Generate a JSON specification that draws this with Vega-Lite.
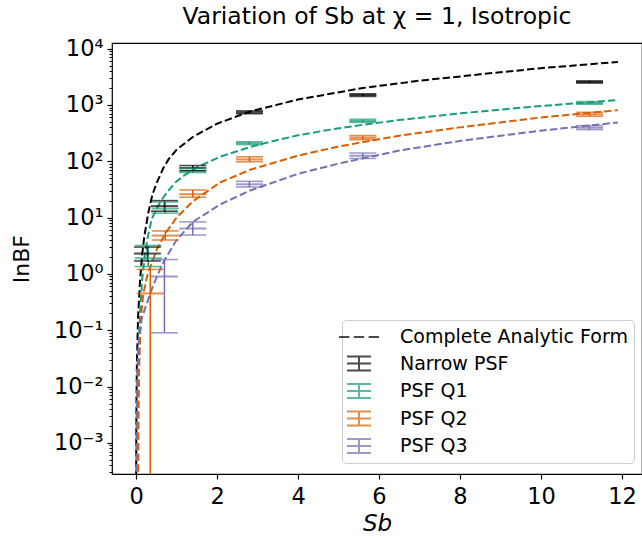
{
  "$schema": "https://vega.github.io/schema/vega-lite/v6.json",
  "width": 530,
  "height": 431,
  "autosize": {"type": "none"},
  "padding": {"left": 112, "top": 43, "right": 0, "bottom": 65},
  "background": "white",
  "config": {
    "font": "DejaVu Sans",
    "view": {"stroke": "black", "strokeWidth": 1.2},
    "axis": {"labelColor": "black", "titleColor": "black", "tickColor": "black", "domain": false, "grid": false, "labelFont": "DejaVu Sans", "titleFont": "DejaVu Sans"}
  },
  "title": {"text": "Variation of Sb at χ = 1, Isotropic", "fontSize": 23.5, "fontWeight": "normal", "anchor": "middle", "offset": 9, "color": "black", "font": "DejaVu Sans"},
  "datasets": {
    "curves": [
      {"series": "Complete Analytic Form", "x": 0.002, "y": 0.00024},
      {"series": "Complete Analytic Form", "x": 0.005, "y": 0.0015},
      {"series": "Complete Analytic Form", "x": 0.01, "y": 0.006},
      {"series": "Complete Analytic Form", "x": 0.02, "y": 0.026},
      {"series": "Complete Analytic Form", "x": 0.05, "y": 0.18},
      {"series": "Complete Analytic Form", "x": 0.1, "y": 0.8},
      {"series": "Complete Analytic Form", "x": 0.15, "y": 2.2},
      {"series": "Complete Analytic Form", "x": 0.2, "y": 4.5},
      {"series": "Complete Analytic Form", "x": 0.3, "y": 12},
      {"series": "Complete Analytic Form", "x": 0.4, "y": 25},
      {"series": "Complete Analytic Form", "x": 0.5, "y": 40},
      {"series": "Complete Analytic Form", "x": 0.67, "y": 75},
      {"series": "Complete Analytic Form", "x": 0.8, "y": 108},
      {"series": "Complete Analytic Form", "x": 1.0, "y": 160},
      {"series": "Complete Analytic Form", "x": 1.4, "y": 270},
      {"series": "Complete Analytic Form", "x": 2.0, "y": 465},
      {"series": "Complete Analytic Form", "x": 2.8, "y": 760},
      {"series": "Complete Analytic Form", "x": 4.0, "y": 1250},
      {"series": "Complete Analytic Form", "x": 5.6, "y": 2000},
      {"series": "Complete Analytic Form", "x": 7.0, "y": 2700},
      {"series": "Complete Analytic Form", "x": 8.5, "y": 3500},
      {"series": "Complete Analytic Form", "x": 10.0, "y": 4500},
      {"series": "Complete Analytic Form", "x": 11.9, "y": 5800},
      {"series": "PSF Q1", "x": 0.004, "y": 0.0002},
      {"series": "PSF Q1", "x": 0.01, "y": 0.0012},
      {"series": "PSF Q1", "x": 0.02, "y": 0.005},
      {"series": "PSF Q1", "x": 0.05, "y": 0.035},
      {"series": "PSF Q1", "x": 0.1, "y": 0.22},
      {"series": "PSF Q1", "x": 0.15, "y": 0.8},
      {"series": "PSF Q1", "x": 0.22, "y": 2.3},
      {"series": "PSF Q1", "x": 0.3, "y": 5},
      {"series": "PSF Q1", "x": 0.39, "y": 9.5},
      {"series": "PSF Q1", "x": 0.5, "y": 14},
      {"series": "PSF Q1", "x": 0.6, "y": 19},
      {"series": "PSF Q1", "x": 0.76, "y": 28},
      {"series": "PSF Q1", "x": 1.0, "y": 44},
      {"series": "PSF Q1", "x": 1.2, "y": 57},
      {"series": "PSF Q1", "x": 1.5, "y": 78},
      {"series": "PSF Q1", "x": 2.07, "y": 120},
      {"series": "PSF Q1", "x": 2.8, "y": 178},
      {"series": "PSF Q1", "x": 3.4, "y": 230},
      {"series": "PSF Q1", "x": 4.0, "y": 290},
      {"series": "PSF Q1", "x": 4.8, "y": 365},
      {"series": "PSF Q1", "x": 5.6, "y": 445},
      {"series": "PSF Q1", "x": 6.5, "y": 540},
      {"series": "PSF Q1", "x": 8.0, "y": 710},
      {"series": "PSF Q1", "x": 10.0, "y": 960},
      {"series": "PSF Q1", "x": 11.9, "y": 1220},
      {"series": "PSF Q2", "x": 0.05, "y": 0.0002},
      {"series": "PSF Q2", "x": 0.06, "y": 0.003},
      {"series": "PSF Q2", "x": 0.075, "y": 0.02},
      {"series": "PSF Q2", "x": 0.1, "y": 0.08},
      {"series": "PSF Q2", "x": 0.13, "y": 0.2},
      {"series": "PSF Q2", "x": 0.18, "y": 0.45},
      {"series": "PSF Q2", "x": 0.28, "y": 0.95},
      {"series": "PSF Q2", "x": 0.39, "y": 1.6},
      {"series": "PSF Q2", "x": 0.51, "y": 2.7},
      {"series": "PSF Q2", "x": 0.72, "y": 5.2},
      {"series": "PSF Q2", "x": 1.0, "y": 10},
      {"series": "PSF Q2", "x": 1.41, "y": 19.6},
      {"series": "PSF Q2", "x": 2.07, "y": 42},
      {"series": "PSF Q2", "x": 2.8, "y": 70},
      {"series": "PSF Q2", "x": 4.0, "y": 126},
      {"series": "PSF Q2", "x": 5.0, "y": 183},
      {"series": "PSF Q2", "x": 6.5, "y": 285},
      {"series": "PSF Q2", "x": 8.0, "y": 400},
      {"series": "PSF Q2", "x": 10.0, "y": 600},
      {"series": "PSF Q2", "x": 11.9, "y": 810},
      {"series": "PSF Q3", "x": 0.02, "y": 0.0002},
      {"series": "PSF Q3", "x": 0.025, "y": 0.005},
      {"series": "PSF Q3", "x": 0.03, "y": 0.02},
      {"series": "PSF Q3", "x": 0.08, "y": 0.08},
      {"series": "PSF Q3", "x": 0.14, "y": 0.16},
      {"series": "PSF Q3", "x": 0.25, "y": 0.28},
      {"series": "PSF Q3", "x": 0.43, "y": 0.65},
      {"series": "PSF Q3", "x": 0.67, "y": 1.6},
      {"series": "PSF Q3", "x": 1.0, "y": 4.0},
      {"series": "PSF Q3", "x": 1.41, "y": 8.5},
      {"series": "PSF Q3", "x": 2.07, "y": 17},
      {"series": "PSF Q3", "x": 2.8, "y": 30},
      {"series": "PSF Q3", "x": 4.0, "y": 60},
      {"series": "PSF Q3", "x": 5.0, "y": 91},
      {"series": "PSF Q3", "x": 6.5, "y": 155},
      {"series": "PSF Q3", "x": 8.0, "y": 230},
      {"series": "PSF Q3", "x": 10.0, "y": 350},
      {"series": "PSF Q3", "x": 11.9, "y": 488}
    ],
    "bars": [
      {"series": "Narrow PSF", "x": 0.28, "y": 2.3, "lo": 1.7, "hi": 3.0},
      {"series": "Narrow PSF", "x": 0.7, "y": 16, "lo": 13, "hi": 20},
      {"series": "Narrow PSF", "x": 1.4, "y": 76, "lo": 68, "hi": 84},
      {"series": "Narrow PSF", "x": 2.8, "y": 740, "lo": 700, "hi": 785},
      {"series": "Narrow PSF", "x": 5.6, "y": 1500, "lo": 1420, "hi": 1580},
      {"series": "Narrow PSF", "x": 11.2, "y": 2560, "lo": 2450, "hi": 2680},
      {"series": "PSF Q1", "x": 0.3, "y": 1.9, "lo": 1.35, "hi": 3.2},
      {"series": "PSF Q1", "x": 0.72, "y": 14.5, "lo": 12, "hi": 19},
      {"series": "PSF Q1", "x": 1.4, "y": 68, "lo": 63, "hi": 75},
      {"series": "PSF Q1", "x": 2.8, "y": 210, "lo": 198, "hi": 222},
      {"series": "PSF Q1", "x": 5.6, "y": 520, "lo": 490, "hi": 555},
      {"series": "PSF Q1", "x": 11.2, "y": 1080, "lo": 1030, "hi": 1150},
      {"series": "PSF Q2", "x": 0.35, "y": 0.45, "lo": 0.000001, "hi": 1.2},
      {"series": "PSF Q2", "x": 0.72, "y": 4.8, "lo": 4.0, "hi": 5.8},
      {"series": "PSF Q2", "x": 1.4, "y": 26, "lo": 23, "hi": 31},
      {"series": "PSF Q2", "x": 2.8, "y": 108, "lo": 98, "hi": 120},
      {"series": "PSF Q2", "x": 5.6, "y": 262, "lo": 242, "hi": 285},
      {"series": "PSF Q2", "x": 11.2, "y": 680, "lo": 630, "hi": 740},
      {"series": "PSF Q3", "x": 0.7, "y": 0.9, "lo": 0.09, "hi": 1.8},
      {"series": "PSF Q3", "x": 1.4, "y": 6.4, "lo": 4.9, "hi": 8.4},
      {"series": "PSF Q3", "x": 2.8, "y": 39, "lo": 35, "hi": 44},
      {"series": "PSF Q3", "x": 5.6, "y": 125, "lo": 112, "hi": 140},
      {"series": "PSF Q3", "x": 11.2, "y": 395, "lo": 365, "hi": 430}
    ],
    "legendrows": [
      {"series": "Complete Analytic Form"},
      {"series": "Narrow PSF"},
      {"series": "PSF Q1"},
      {"series": "PSF Q2"},
      {"series": "PSF Q3"}
    ]
  },
  "resolve": {"axis": {"x": "independent", "y": "independent"}},
  "layer": [
    {
      "data": {"name": "legendrows"},
      "mark": {"type": "point", "filled": false, "strokeWidth": 2, "clip": true},
      "encoding": {
        "x": {"datum": 0, "type": "quantitative", "scale": {"domain": [-0.595, 12.495], "nice": false, "zero": false}, "axis": null},
        "y": {"datum": 0.000000001, "type": "quantitative", "scale": {"type": "log", "domain": [0.00028, 12600], "nice": false},
              "axis": {"orient": "left", "labels": false, "domain": false, "title": null, "tickSize": 3, "tickWidth": 1,
                       "values": [0.0003, 0.0004, 0.0005, 0.0006, 0.0007, 0.0008, 0.0009,
                                  0.002, 0.003, 0.004, 0.005, 0.006, 0.007, 0.008, 0.009,
                                  0.02, 0.03, 0.04, 0.05, 0.06, 0.07, 0.08, 0.09,
                                  0.2, 0.3, 0.4, 0.5, 0.6, 0.7, 0.8, 0.9,
                                  2, 3, 4, 5, 6, 7, 8, 9,
                                  20, 30, 40, 50, 60, 70, 80, 90,
                                  200, 300, 400, 500, 600, 700, 800, 900,
                                  2000, 3000, 4000, 5000, 6000, 7000, 8000, 9000]}},
        "color": {"field": "series", "type": "nominal",
                  "scale": {"domain": ["Complete Analytic Form", "Narrow PSF", "PSF Q1", "PSF Q2", "PSF Q3"], "range": ["#000000", "#000000", "#1b9e77", "#d95f02", "#7570b3"]},
                  "legend": {"orient": "none", "legendX": 230, "legendY": 277, "title": null, "labelFontSize": 19, "labelColor": "black", "labelFont": "DejaVu Sans",
                             "symbolSize": 400, "symbolStrokeWidth": 2, "labelOffset": 30, "padding": 6, "rowPadding": 5.5,
                             "strokeColor": "#cccccc", "fillColor": "white", "cornerRadius": 4, "labelLimit": 400,
                             "encode": {"symbols": {"update": {"opacity": {"value": 1}, "fill": {"value": "transparent"}, "strokeDash": {"value": [1, 0]}}}}}},
        "shape": {"field": "series", "type": "nominal",
                  "scale": {"domain": ["Complete Analytic Form", "Narrow PSF", "PSF Q1", "PSF Q2", "PSF Q3"],
                            "range": ["M-2,0H-0.96M-0.52,0H0.52M0.96,0H2", "M-1.2,-0.7H1.2M-1.2,0H1.2M-1.2,0.7H1.2M0,-0.7V0.7", "M-1.2,-0.7H1.2M-1.2,0H1.2M-1.2,0.7H1.2M0,-0.7V0.7", "M-1.2,-0.7H1.2M-1.2,0H1.2M-1.2,0.7H1.2M0,-0.7V0.7", "M-1.2,-0.7H1.2M-1.2,0H1.2M-1.2,0.7H1.2M0,-0.7V0.7"]},
                  "legend": {"orient": "none", "legendX": 230, "legendY": 277, "title": null, "labelFontSize": 19, "labelColor": "black", "labelFont": "DejaVu Sans",
                             "symbolSize": 400, "symbolStrokeWidth": 2, "labelOffset": 30, "padding": 6, "rowPadding": 5.5,
                             "strokeColor": "#cccccc", "fillColor": "white", "cornerRadius": 4, "labelLimit": 400,
                             "encode": {"symbols": {"update": {"opacity": {"value": 1}, "fill": {"value": "transparent"}, "strokeDash": {"value": [1, 0]}}}}}}
      }
    },
    {
      "data": {"name": "curves"},
      "mark": {"type": "line", "strokeDash": [7.4, 3.2], "strokeWidth": 2, "clip": true},
      "encoding": {
        "x": {"field": "x", "type": "quantitative",
              "axis": {"orient": "bottom", "values": [0, 2, 4, 6, 8, 10, 12], "tickSize": 5, "tickWidth": 1.2, "labelFontSize": 22.5, "labelPadding": 6, "title": "Sb", "titleFontSize": 23, "titleFontWeight": "normal", "titleFontStyle": "italic", "titlePadding": 5}},
        "y": {"field": "y", "type": "quantitative",
              "axis": {"orient": "left", "values": [0.001, 0.01, 0.1, 1, 10, 100, 1000, 10000], "tickSize": 5, "tickWidth": 1.2, "labelFontSize": 22.5, "labelPadding": 4,
                       "labelExpr": "'10' + replace(replace(replace(replace(replace(replace(''+round(log(datum.value)/LN10),'-','⁻'),'0','⁰'),'1','¹'),'2','²'),'3','³'),'4','⁴')",
                       "title": "lnBF", "titleFontSize": 22, "titleFontWeight": "normal", "titlePadding": 20}},
        "color": {"field": "series", "type": "nominal"},
        "detail": {"field": "series"}
      }
    },
    {
      "data": {"name": "bars"},
      "mark": {"type": "rule", "strokeWidth": 1.5, "clip": true},
      "encoding": {
        "x": {"field": "x", "type": "quantitative", "axis": null},
        "y": {"field": "lo", "type": "quantitative", "axis": null},
        "y2": {"field": "hi"},
        "color": {"field": "series", "type": "nominal"}
      }
    },
    {
      "data": {"name": "bars"},
      "mark": {"type": "tick", "orient": "horizontal", "size": 27, "thickness": 2, "clip": true},
      "encoding": {
        "x": {"field": "x", "type": "quantitative", "axis": null},
        "y": {"field": "y", "type": "quantitative", "axis": null},
        "color": {"field": "series", "type": "nominal"}
      }
    },
    {
      "data": {"name": "bars"},
      "mark": {"type": "tick", "orient": "horizontal", "size": 27, "thickness": 1.6, "clip": true},
      "encoding": {
        "x": {"field": "x", "type": "quantitative", "axis": null},
        "y": {"field": "lo", "type": "quantitative", "axis": null},
        "color": {"field": "series", "type": "nominal"}
      }
    },
    {
      "data": {"name": "bars"},
      "mark": {"type": "tick", "orient": "horizontal", "size": 27, "thickness": 1.6, "clip": true},
      "encoding": {
        "x": {"field": "x", "type": "quantitative", "axis": null},
        "y": {"field": "hi", "type": "quantitative", "axis": null},
        "color": {"field": "series", "type": "nominal"}
      }
    }
  ]
}
